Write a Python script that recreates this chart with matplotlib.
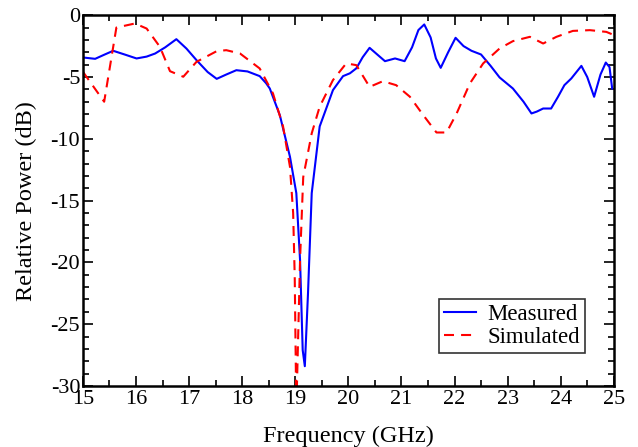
import matplotlib
matplotlib.use('Agg')
import matplotlib.pyplot as plt
from matplotlib.ticker import MultipleLocator

# Measured curve
meas_f = [15.0, 15.23, 15.4, 15.57, 15.8, 16.01, 16.2, 16.36, 16.55, 16.76, 16.95, 17.14, 17.35, 17.52,
          17.7, 17.89, 18.1, 18.33, 18.45, 18.52, 18.71, 18.9, 19.02, 19.09, 19.14, 19.18, 19.24,
          19.31, 19.46, 19.71, 19.9, 20.03, 20.15, 20.27, 20.40, 20.55, 20.69, 20.88, 21.06, 21.2,
          21.32, 21.43, 21.55, 21.65, 21.74, 21.88, 22.02, 22.17, 22.32, 22.5, 22.68, 22.85, 23.1,
          23.3, 23.45, 23.55, 23.67, 23.82, 23.95, 24.07, 24.2, 24.39, 24.5, 24.63, 24.75, 24.85, 24.92, 24.97]
meas_db = [-3.42, -3.53, -3.2, -2.88, -3.2, -3.5, -3.35, -3.1, -2.6, -1.94, -2.7, -3.64, -4.6, -5.15,
           -4.8, -4.45, -4.55, -4.93, -5.5, -5.93, -8.1, -11.45, -14.4, -19.8, -27.1, -28.4, -22.5,
           -14.4, -9.0, -6.06, -4.93, -4.7, -4.3, -3.4, -2.64, -3.2, -3.72, -3.5, -3.72, -2.6,
           -1.2, -0.75, -1.8, -3.5, -4.26, -3.0, -1.83, -2.5, -2.88, -3.18, -4.1, -5.04, -5.93,
           -7.0, -7.95, -7.8, -7.55, -7.55, -6.6, -5.66, -5.12, -4.1, -5.0, -6.6, -4.8, -3.83, -4.2, -5.93]

# Simulated curve
sim_f = [15.0, 15.4, 15.63, 15.98, 16.2, 16.45, 16.64, 16.89, 17.14, 17.52, 17.7, 17.96, 18.33,
         18.58, 18.77, 18.9, 18.96, 18.99, 19.02, 19.09, 19.15, 19.31, 19.46, 19.71, 19.96,
         20.15, 20.40, 20.65, 20.9, 21.16, 21.41, 21.66, 21.85, 22.04, 22.29, 22.54, 22.85,
         23.1, 23.42, 23.67, 23.92, 24.23, 24.55, 24.86, 25.0]
sim_db = [-4.58, -7.0, -1.0, -0.67, -1.08, -2.56, -4.53, -4.98, -3.77, -2.91, -2.83, -3.1, -4.31,
          -6.33, -9.0, -12.26, -16.0, -21.2, -32.0, -19.8, -13.1, -9.56, -7.4, -5.25, -3.9,
          -4.04, -5.8, -5.34, -5.66, -6.6, -8.08, -9.49, -9.49, -7.95, -5.52, -3.9, -2.69,
          -2.1, -1.75, -2.29, -1.75, -1.27, -1.21, -1.35, -1.6]

plt.rcParams['font.family'] = ['Liberation Serif', 'DejaVu Serif']
plt.rcParams['axes.unicode_minus'] = False

fig = plt.figure(figsize=(6.38, 4.47), dpi=100)
ax = fig.add_axes([0.130, 0.1365, 0.832, 0.8295])

ax.plot(meas_f, meas_db, color='#0000ff', lw=1.5, label='Measured')
ax.plot(sim_f, sim_db, color='#ff0000', lw=1.5, dashes=(4.8, 3.4), label='Simulated')

ax.set_xlim(15, 25)
ax.set_ylim(-30, 0)
ax.xaxis.set_major_locator(MultipleLocator(1))
ax.xaxis.set_minor_locator(MultipleLocator(0.5))
ax.yaxis.set_major_locator(MultipleLocator(5))
ax.yaxis.set_minor_locator(MultipleLocator(1))
ax.tick_params(which='both', direction='in', top=True, right=True, labelsize=16, width=1.2)
ax.tick_params(axis='x', pad=3)
ax.tick_params(axis='y', pad=2)
ax.tick_params(which='major', length=7)
ax.tick_params(which='minor', length=4)
for s in ax.spines.values():
    s.set_linewidth(1.8)

ax.set_xlabel('Frequency (GHz)', fontsize=17.5, labelpad=12)
ax.set_ylabel('Relative Power (dB)', fontsize=17.5, labelpad=10)

leg = ax.legend(loc='lower right', bbox_to_anchor=(0.945, 0.09), borderaxespad=0, fontsize=16.5,
                frameon=True, fancybox=False, edgecolor='black', handlelength=1.4,
                handletextpad=0.5, borderpad=0.2, labelspacing=0.1)
leg.get_frame().set_linewidth(1.2)

fig.savefig('out.png', dpi=100)
